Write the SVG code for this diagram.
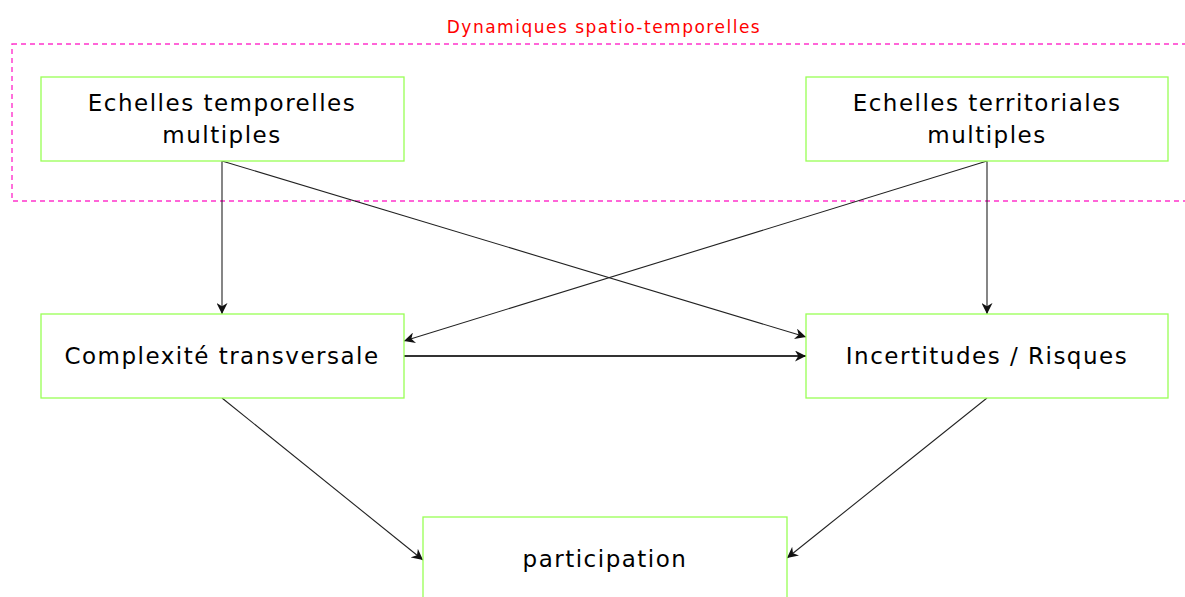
<svg xmlns="http://www.w3.org/2000/svg" width="1185" height="597" viewBox="0 0 1185 597">
<style>
.box{fill:#fff;stroke:#99ff55;stroke-width:1.3}
.t{font-family:"Comic Sans MS","DejaVu Sans",sans-serif;font-size:23px;letter-spacing:1.5px;fill:#000;text-anchor:middle}
.c{stroke:#222;stroke-width:1.1;fill:none;marker-end:url(#ah)}
</style>
<defs>
<marker id="ah" viewBox="0 0 10 10" refX="10" refY="5" markerWidth="11" markerHeight="11" markerUnits="userSpaceOnUse" orient="auto">
<path d="M0,0 L10,5 L0,10 L3,5 z" fill="#111"/>
</marker>
</defs>
<rect width="1185" height="597" fill="#fff"/>
<g id="group">
<rect x="12" y="44" width="1180" height="157" fill="none" stroke="#ff33cc" stroke-width="1.4" stroke-dasharray="5,4"/>
<text x="604" y="33" font-family="'Comic Sans MS','DejaVu Sans',sans-serif" font-size="17" letter-spacing="1.5" fill="#ff0000" text-anchor="middle">Dynamiques spatio-temporelles</text>
</g>
<g id="connectors">
<line class="c" x1="222" y1="161" x2="222" y2="314"/>
<line class="c" x1="222" y1="161" x2="806" y2="337"/>
<line class="c" x1="987" y1="161" x2="404" y2="341"/>
<line class="c" x1="987" y1="161" x2="987" y2="314"/>
<line class="c" x1="404" y1="356" x2="806" y2="356" style="stroke:#333;stroke-width:1.8"/>
<line class="c" x1="222" y1="398" x2="423" y2="560"/>
<line class="c" x1="987" y1="398" x2="787" y2="558"/>
</g>
<g id="n1"><rect class="box" x="41" y="77" width="363" height="84"/><text class="t" x="222" y="111">Echelles temporelles</text><text class="t" x="222" y="143">multiples</text></g>
<g id="n2"><rect class="box" x="806" y="77" width="362" height="84"/><text class="t" x="987" y="111">Echelles territoriales</text><text class="t" x="987" y="143">multiples</text></g>
<g id="n3"><rect class="box" x="41" y="314" width="363" height="84"/><text class="t" x="222" y="364">Complexité transversale</text></g>
<g id="n4"><rect class="box" x="806" y="314" width="362" height="84"/><text class="t" x="987" y="364">Incertitudes / Risques</text></g>
<g id="n5"><rect class="box" x="423" y="517" width="364" height="100"/><text class="t" x="605" y="567">participation</text></g>
</svg>
